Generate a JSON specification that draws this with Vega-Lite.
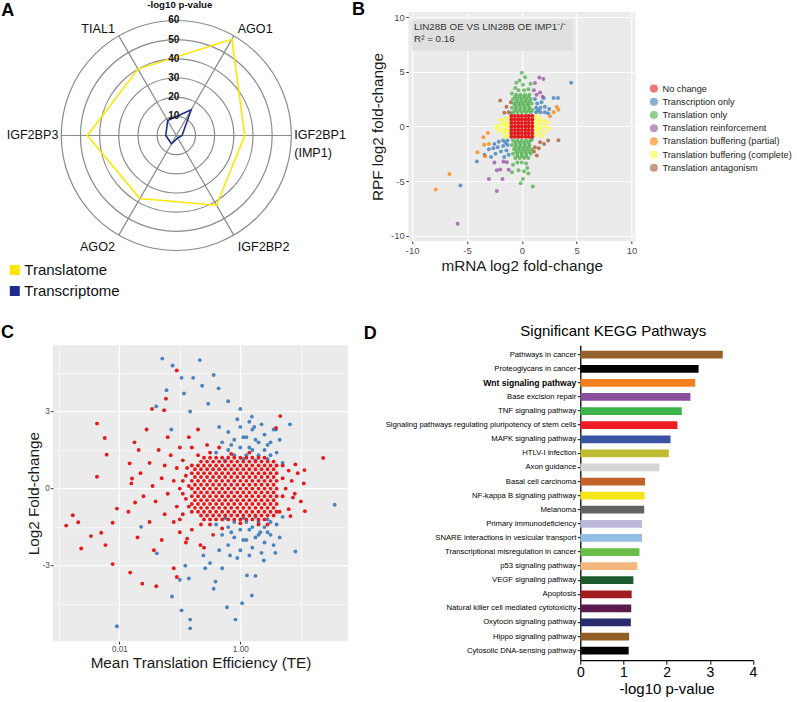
{
"$schema":"https://vega.github.io/schema/vega-lite/v6.json",
"autosize":{"type":"pad"},
"padding":{"left":0,"top":0,"right":0,"bottom":0},
"background":"white",
"bounds":"flush",
"spacing":333.2,
"resolve":{"scale":{"color":"independent","radius":"independent"},"legend":{"color":"independent"}},
"config":{"font":"Liberation Sans","view":{"stroke":null}},
"datasets":{
"radar":[
{"protein":"AGO1","angle":30,"series":"Translatome","value":58},
{"protein":"IGF2BP1","angle":90,"series":"Translatome","value":35.7},
{"protein":"IGF2BP2","angle":150,"series":"Translatome","value":42},
{"protein":"AGO2","angle":210,"series":"Translatome","value":38},
{"protein":"IGF2BP3","angle":270,"series":"Translatome","value":46.4},
{"protein":"TIAL1","angle":330,"series":"Translatome","value":40},
{"protein":"AGO1","angle":30,"series":"Transcriptome","value":15.5},
{"protein":"IGF2BP1","angle":90,"series":"Transcriptome","value":3},
{"protein":"IGF2BP2","angle":150,"series":"Transcriptome","value":1.5},
{"protein":"AGO2","angle":210,"series":"Transcriptome","value":5},
{"protein":"IGF2BP3","angle":270,"series":"Transcriptome","value":5.5},
{"protein":"TIAL1","angle":330,"series":"Transcriptome","value":9}],
"spokes":[
{"protein":"AGO1","angle":30},{"protein":"IGF2BP1","angle":90},{"protein":"IGF2BP2","angle":150},
{"protein":"AGO2","angle":210},{"protein":"IGF2BP3","angle":270},{"protein":"TIAL1","angle":330}],
"rings":[{"r":10},{"r":20},{"r":30},{"r":40},{"r":50},{"r":60}],
"deseq":[
{"mrna":-0.8,"rpf":1.3,"category":"Translation only"},{"mrna":-0.4,"rpf":1.3,"category":"Translation only"},{"mrna":0,"rpf":1.3,"category":"Translation only"},{"mrna":0.4,"rpf":1.3,"category":"Translation only"},{"mrna":0.8,"rpf":1.3,"category":"Translation only"},
{"mrna":-0.9,"rpf":1.7,"category":"Translation only"},{"mrna":-0.5,"rpf":1.7,"category":"Translation only"},{"mrna":-0.1,"rpf":1.7,"category":"Translation only"},{"mrna":0.3,"rpf":1.7,"category":"Translation only"},{"mrna":0.7,"rpf":1.7,"category":"Translation only"},
{"mrna":-0.7,"rpf":2.1,"category":"Translation only"},{"mrna":-0.3,"rpf":2.1,"category":"Translation only"},{"mrna":0.1,"rpf":2.1,"category":"Translation only"},{"mrna":0.5,"rpf":2.1,"category":"Translation only"},{"mrna":0.9,"rpf":2.1,"category":"Translation only"},
{"mrna":-0.8,"rpf":2.5,"category":"Translation only"},{"mrna":-0.4,"rpf":2.5,"category":"Translation only"},{"mrna":0,"rpf":2.5,"category":"Translation only"},{"mrna":0.4,"rpf":2.5,"category":"Translation only"},{"mrna":0.8,"rpf":2.5,"category":"Translation only"},
{"mrna":-0.5,"rpf":2.9,"category":"Translation only"},{"mrna":-0.1,"rpf":2.9,"category":"Translation only"},{"mrna":0.3,"rpf":2.9,"category":"Translation only"},{"mrna":0.7,"rpf":2.9,"category":"Translation only"},
{"mrna":-0.3,"rpf":3.3,"category":"Translation only"},{"mrna":0.2,"rpf":3.3,"category":"Translation only"},{"mrna":0.6,"rpf":3.4,"category":"Translation only"},{"mrna":-0.6,"rpf":3.5,"category":"Translation only"},
{"mrna":0.1,"rpf":3.8,"category":"Translation only"},{"mrna":-0.2,"rpf":4.2,"category":"Translation only"},{"mrna":0.3,"rpf":4.5,"category":"Translation only"},{"mrna":0,"rpf":4.9,"category":"Translation only"},{"mrna":-0.5,"rpf":4,"category":"Translation only"},{"mrna":0.8,"rpf":3.9,"category":"Translation only"},{"mrna":-0.9,"rpf":3,"category":"Translation only"},
{"mrna":-0.6,"rpf":1.5,"category":"Translation only"},{"mrna":-0.2,"rpf":1.5,"category":"Translation only"},{"mrna":0.2,"rpf":1.5,"category":"Translation only"},{"mrna":0.6,"rpf":1.5,"category":"Translation only"},
{"mrna":-0.6,"rpf":1.9,"category":"Translation only"},{"mrna":-0.2,"rpf":1.9,"category":"Translation only"},{"mrna":0.2,"rpf":1.9,"category":"Translation only"},{"mrna":0.6,"rpf":1.9,"category":"Translation only"},
{"mrna":-0.5,"rpf":2.3,"category":"Translation only"},{"mrna":-0.1,"rpf":2.3,"category":"Translation only"},{"mrna":0.3,"rpf":2.3,"category":"Translation only"},{"mrna":0.7,"rpf":2.3,"category":"Translation only"},
{"mrna":-0.6,"rpf":2.7,"category":"Translation only"},{"mrna":-0.2,"rpf":2.7,"category":"Translation only"},{"mrna":0.2,"rpf":2.7,"category":"Translation only"},{"mrna":0.6,"rpf":2.7,"category":"Translation only"},
{"mrna":0.95,"rpf":1.5,"category":"Translation only"},{"mrna":-0.95,"rpf":1.2,"category":"Translation only"},
{"mrna":-0.8,"rpf":-1.3,"category":"Translation only"},{"mrna":-0.4,"rpf":-1.3,"category":"Translation only"},{"mrna":0,"rpf":-1.3,"category":"Translation only"},{"mrna":0.4,"rpf":-1.3,"category":"Translation only"},{"mrna":0.8,"rpf":-1.3,"category":"Translation only"},
{"mrna":-0.9,"rpf":-1.7,"category":"Translation only"},{"mrna":-0.5,"rpf":-1.7,"category":"Translation only"},{"mrna":-0.1,"rpf":-1.7,"category":"Translation only"},{"mrna":0.3,"rpf":-1.7,"category":"Translation only"},{"mrna":0.7,"rpf":-1.7,"category":"Translation only"},
{"mrna":-0.7,"rpf":-2.1,"category":"Translation only"},{"mrna":-0.3,"rpf":-2.1,"category":"Translation only"},{"mrna":0.1,"rpf":-2.1,"category":"Translation only"},{"mrna":0.5,"rpf":-2.1,"category":"Translation only"},{"mrna":0.9,"rpf":-2.1,"category":"Translation only"},
{"mrna":-0.8,"rpf":-2.5,"category":"Translation only"},{"mrna":-0.4,"rpf":-2.5,"category":"Translation only"},{"mrna":0,"rpf":-2.5,"category":"Translation only"},{"mrna":0.4,"rpf":-2.5,"category":"Translation only"},{"mrna":0.8,"rpf":-2.5,"category":"Translation only"},
{"mrna":-0.6,"rpf":-2.9,"category":"Translation only"},{"mrna":-0.2,"rpf":-2.9,"category":"Translation only"},{"mrna":0.2,"rpf":-2.9,"category":"Translation only"},{"mrna":0.6,"rpf":-2.9,"category":"Translation only"},
{"mrna":-0.4,"rpf":-3.3,"category":"Translation only"},{"mrna":0,"rpf":-3.3,"category":"Translation only"},{"mrna":0.4,"rpf":-3.4,"category":"Translation only"},{"mrna":-0.8,"rpf":-3.5,"category":"Translation only"},
{"mrna":-0.3,"rpf":-4,"category":"Translation only"},{"mrna":0.2,"rpf":-4.1,"category":"Translation only"},{"mrna":0.6,"rpf":-4.3,"category":"Translation only"},{"mrna":-0.9,"rpf":-4.2,"category":"Translation only"},{"mrna":0.1,"rpf":-4.8,"category":"Translation only"},{"mrna":-0.1,"rpf":-5.2,"category":"Translation only"},{"mrna":1,"rpf":-5.5,"category":"Translation only"},{"mrna":0.5,"rpf":-3.8,"category":"Translation only"},
{"mrna":-0.6,"rpf":-1.5,"category":"Translation only"},{"mrna":-0.2,"rpf":-1.5,"category":"Translation only"},{"mrna":0.2,"rpf":-1.5,"category":"Translation only"},{"mrna":0.6,"rpf":-1.5,"category":"Translation only"},
{"mrna":-0.6,"rpf":-1.9,"category":"Translation only"},{"mrna":-0.2,"rpf":-1.9,"category":"Translation only"},{"mrna":0.2,"rpf":-1.9,"category":"Translation only"},{"mrna":0.6,"rpf":-1.9,"category":"Translation only"},
{"mrna":-0.5,"rpf":-2.3,"category":"Translation only"},{"mrna":-0.1,"rpf":-2.3,"category":"Translation only"},{"mrna":0.3,"rpf":-2.3,"category":"Translation only"},{"mrna":0.7,"rpf":-2.3,"category":"Translation only"},
{"mrna":-0.4,"rpf":-2.7,"category":"Translation only"},{"mrna":0,"rpf":-2.7,"category":"Translation only"},{"mrna":0.4,"rpf":-2.7,"category":"Translation only"},{"mrna":0.9,"rpf":-1.2,"category":"Translation only"},
{"mrna":1.3,"rpf":-0.8,"category":"Translation buffering (complete)"},{"mrna":1.3,"rpf":-0.4,"category":"Translation buffering (complete)"},{"mrna":1.3,"rpf":0,"category":"Translation buffering (complete)"},{"mrna":1.3,"rpf":0.4,"category":"Translation buffering (complete)"},{"mrna":1.3,"rpf":0.8,"category":"Translation buffering (complete)"},
{"mrna":1.7,"rpf":-0.6,"category":"Translation buffering (complete)"},{"mrna":1.7,"rpf":-0.2,"category":"Translation buffering (complete)"},{"mrna":1.7,"rpf":0.2,"category":"Translation buffering (complete)"},{"mrna":1.7,"rpf":0.6,"category":"Translation buffering (complete)"},
{"mrna":2.1,"rpf":-0.5,"category":"Translation buffering (complete)"},{"mrna":2.1,"rpf":0,"category":"Translation buffering (complete)"},{"mrna":2.1,"rpf":0.5,"category":"Translation buffering (complete)"},{"mrna":2.4,"rpf":0.3,"category":"Translation buffering (complete)"},{"mrna":2.5,"rpf":-0.2,"category":"Translation buffering (complete)"},
{"mrna":1.5,"rpf":0.95,"category":"Translation buffering (complete)"},{"mrna":1.9,"rpf":-0.9,"category":"Translation buffering (complete)"},{"mrna":1.5,"rpf":-0.2,"category":"Translation buffering (complete)"},{"mrna":1.5,"rpf":0.4,"category":"Translation buffering (complete)"},
{"mrna":-1.3,"rpf":-0.8,"category":"Translation buffering (complete)"},{"mrna":-1.3,"rpf":-0.4,"category":"Translation buffering (complete)"},{"mrna":-1.3,"rpf":0,"category":"Translation buffering (complete)"},{"mrna":-1.3,"rpf":0.4,"category":"Translation buffering (complete)"},{"mrna":-1.3,"rpf":0.8,"category":"Translation buffering (complete)"},
{"mrna":-1.7,"rpf":-0.6,"category":"Translation buffering (complete)"},{"mrna":-1.7,"rpf":-0.2,"category":"Translation buffering (complete)"},{"mrna":-1.7,"rpf":0.2,"category":"Translation buffering (complete)"},{"mrna":-1.7,"rpf":0.6,"category":"Translation buffering (complete)"},
{"mrna":-2.1,"rpf":-0.4,"category":"Translation buffering (complete)"},{"mrna":-2.1,"rpf":0.1,"category":"Translation buffering (complete)"},{"mrna":-2,"rpf":0.6,"category":"Translation buffering (complete)"},{"mrna":-2.3,"rpf":-0.1,"category":"Translation buffering (complete)"},
{"mrna":-1.5,"rpf":-0.95,"category":"Translation buffering (complete)"},{"mrna":-1.5,"rpf":0.2,"category":"Translation buffering (complete)"},{"mrna":-1.5,"rpf":-0.4,"category":"Translation buffering (complete)"},
{"mrna":1.3,"rpf":1.3,"category":"Transcription only"},{"mrna":1.7,"rpf":1.3,"category":"Transcription only"},{"mrna":2.1,"rpf":1.3,"category":"Transcription only"},{"mrna":1.3,"rpf":1.7,"category":"Transcription only"},{"mrna":1.7,"rpf":1.7,"category":"Transcription only"},{"mrna":2.1,"rpf":1.8,"category":"Transcription only"},
{"mrna":1.4,"rpf":2.1,"category":"Transcription only"},{"mrna":1.8,"rpf":2.2,"category":"Transcription only"},{"mrna":2.5,"rpf":1.6,"category":"Transcription only"},{"mrna":1.2,"rpf":2.5,"category":"Transcription only"},{"mrna":2,"rpf":2.6,"category":"Transcription only"},{"mrna":2.4,"rpf":1.2,"category":"Transcription only"},
{"mrna":2.9,"rpf":2.6,"category":"Transcription only"},{"mrna":3.3,"rpf":2.6,"category":"Transcription only"},{"mrna":4.5,"rpf":4,"category":"Transcription only"},{"mrna":1.5,"rpf":1.5,"category":"Transcription only"},
{"mrna":-1.3,"rpf":-1.3,"category":"Transcription only"},{"mrna":-1.7,"rpf":-1.3,"category":"Transcription only"},{"mrna":-2.1,"rpf":-1.4,"category":"Transcription only"},{"mrna":-1.3,"rpf":-1.7,"category":"Transcription only"},{"mrna":-1.7,"rpf":-1.8,"category":"Transcription only"},{"mrna":-2.2,"rpf":-1.9,"category":"Transcription only"},
{"mrna":-2.6,"rpf":-2,"category":"Transcription only"},{"mrna":-1.4,"rpf":-2.2,"category":"Transcription only"},{"mrna":-1.9,"rpf":-2.3,"category":"Transcription only"},{"mrna":-2.4,"rpf":-2.5,"category":"Transcription only"},{"mrna":-3,"rpf":-2.1,"category":"Transcription only"},{"mrna":-1.2,"rpf":-2.6,"category":"Transcription only"},
{"mrna":-2.8,"rpf":-2.8,"category":"Transcription only"},{"mrna":-3.4,"rpf":-2.6,"category":"Transcription only"},{"mrna":-4.1,"rpf":-3.2,"category":"Transcription only"},{"mrna":-5.6,"rpf":-5.4,"category":"Transcription only"},{"mrna":-1.6,"rpf":-2.8,"category":"Transcription only"},{"mrna":-1.5,"rpf":-1.5,"category":"Transcription only"},{"mrna":-2.5,"rpf":-1.6,"category":"Transcription only"},
{"mrna":1.6,"rpf":4.48,"category":"Translation reinforcement"},{"mrna":1.97,"rpf":4.33,"category":"Translation reinforcement"},{"mrna":1.2,"rpf":3.96,"category":"Translation reinforcement"},{"mrna":1.35,"rpf":2.9,"category":"Translation reinforcement"},{"mrna":1.67,"rpf":3.1,"category":"Translation reinforcement"},{"mrna":1.9,"rpf":2.7,"category":"Translation reinforcement"},{"mrna":1.1,"rpf":3.3,"category":"Translation reinforcement"},
{"mrna":-1.68,"rpf":-3.2,"category":"Translation reinforcement"},{"mrna":-2.28,"rpf":-4,"category":"Translation reinforcement"},{"mrna":-1.76,"rpf":-4.8,"category":"Translation reinforcement"},{"mrna":-3,"rpf":-4.8,"category":"Translation reinforcement"},{"mrna":-2.28,"rpf":-5.9,"category":"Translation reinforcement"},{"mrna":-5.85,"rpf":-8.9,"category":"Translation reinforcement"},
{"mrna":-1.97,"rpf":-3.95,"category":"Translation reinforcement"},{"mrna":-1.37,"rpf":-3.27,"category":"Translation reinforcement"},{"mrna":-1.2,"rpf":-3.97,"category":"Translation reinforcement"},{"mrna":-2.5,"rpf":-3.3,"category":"Translation reinforcement"},
{"mrna":3.19,"rpf":1.77,"category":"Translation buffering (partial)"},{"mrna":3.34,"rpf":1.53,"category":"Translation buffering (partial)"},{"mrna":2.58,"rpf":0.92,"category":"Translation buffering (partial)"},{"mrna":2.9,"rpf":1.3,"category":"Translation buffering (partial)"},
{"mrna":-3.5,"rpf":-1,"category":"Translation buffering (partial)"},{"mrna":-3.44,"rpf":-1.67,"category":"Translation buffering (partial)"},{"mrna":-4.05,"rpf":-2.37,"category":"Translation buffering (partial)"},{"mrna":-3.35,"rpf":-2.74,"category":"Translation buffering (partial)"},
{"mrna":-3,"rpf":-1.6,"category":"Translation buffering (partial)"},{"mrna":-6.6,"rpf":-4.36,"category":"Translation buffering (partial)"},{"mrna":-7.85,"rpf":-5.77,"category":"Translation buffering (partial)"},{"mrna":-3.1,"rpf":-0.6,"category":"Translation buffering (partial)"},
{"mrna":-1.97,"rpf":2.37,"category":"Translation antagonism"},{"mrna":-1.6,"rpf":1.25,"category":"Translation antagonism"},{"mrna":-1.2,"rpf":1.3,"category":"Translation antagonism"},{"mrna":-1.4,"rpf":1.8,"category":"Translation antagonism"},{"mrna":-1,"rpf":2.2,"category":"Translation antagonism"},
{"mrna":1.67,"rpf":-1.45,"category":"Translation antagonism"},{"mrna":2.03,"rpf":-1.6,"category":"Translation antagonism"},{"mrna":1.37,"rpf":-2.67,"category":"Translation antagonism"},{"mrna":1.55,"rpf":-2,"category":"Translation antagonism"},{"mrna":3.34,"rpf":-1.26,"category":"Translation antagonism"},
{"mrna":1.2,"rpf":-1.9,"category":"Translation antagonism"},{"mrna":2.4,"rpf":-1.3,"category":"Translation antagonism"},{"mrna":1.1,"rpf":-2.3,"category":"Translation antagonism"},
{"mrna":-0.95,"rpf":-0.95,"category":"No change"},{"mrna":-0.63,"rpf":-0.95,"category":"No change"},{"mrna":-0.32,"rpf":-0.95,"category":"No change"},{"mrna":0,"rpf":-0.95,"category":"No change"},{"mrna":0.32,"rpf":-0.95,"category":"No change"},{"mrna":0.63,"rpf":-0.95,"category":"No change"},{"mrna":0.95,"rpf":-0.95,"category":"No change"},
{"mrna":-0.95,"rpf":-0.63,"category":"No change"},{"mrna":-0.63,"rpf":-0.63,"category":"No change"},{"mrna":-0.32,"rpf":-0.63,"category":"No change"},{"mrna":0,"rpf":-0.63,"category":"No change"},{"mrna":0.32,"rpf":-0.63,"category":"No change"},{"mrna":0.63,"rpf":-0.63,"category":"No change"},{"mrna":0.95,"rpf":-0.63,"category":"No change"},
{"mrna":-0.95,"rpf":-0.32,"category":"No change"},{"mrna":-0.63,"rpf":-0.32,"category":"No change"},{"mrna":-0.32,"rpf":-0.32,"category":"No change"},{"mrna":0,"rpf":-0.32,"category":"No change"},{"mrna":0.32,"rpf":-0.32,"category":"No change"},{"mrna":0.63,"rpf":-0.32,"category":"No change"},{"mrna":0.95,"rpf":-0.32,"category":"No change"},
{"mrna":-0.95,"rpf":0,"category":"No change"},{"mrna":-0.63,"rpf":0,"category":"No change"},{"mrna":-0.32,"rpf":0,"category":"No change"},{"mrna":0,"rpf":0,"category":"No change"},{"mrna":0.32,"rpf":0,"category":"No change"},{"mrna":0.63,"rpf":0,"category":"No change"},{"mrna":0.95,"rpf":0,"category":"No change"},
{"mrna":-0.95,"rpf":0.32,"category":"No change"},{"mrna":-0.63,"rpf":0.32,"category":"No change"},{"mrna":-0.32,"rpf":0.32,"category":"No change"},{"mrna":0,"rpf":0.32,"category":"No change"},{"mrna":0.32,"rpf":0.32,"category":"No change"},{"mrna":0.63,"rpf":0.32,"category":"No change"},{"mrna":0.95,"rpf":0.32,"category":"No change"},
{"mrna":-0.95,"rpf":0.63,"category":"No change"},{"mrna":-0.63,"rpf":0.63,"category":"No change"},{"mrna":-0.32,"rpf":0.63,"category":"No change"},{"mrna":0,"rpf":0.63,"category":"No change"},{"mrna":0.32,"rpf":0.63,"category":"No change"},{"mrna":0.63,"rpf":0.63,"category":"No change"},{"mrna":0.95,"rpf":0.63,"category":"No change"},
{"mrna":-0.95,"rpf":0.95,"category":"No change"},{"mrna":-0.63,"rpf":0.95,"category":"No change"},{"mrna":-0.32,"rpf":0.95,"category":"No change"},{"mrna":0,"rpf":0.95,"category":"No change"},{"mrna":0.32,"rpf":0.95,"category":"No change"},{"mrna":0.63,"rpf":0.95,"category":"No change"},{"mrna":0.95,"rpf":0.95,"category":"No change"}
],
"te":[
{"te":0.398,"lfc":1.4,"sig":1},{"te":0.501,"lfc":1.8,"sig":1},{"te":0.631,"lfc":1.5,"sig":1},{"te":0.631,"lfc":2.2,"sig":1},{"te":0.794,"lfc":1.3,"sig":1},{"te":0.794,"lfc":1.9,"sig":1},{"te":1,"lfc":1.6,"sig":1},{"te":1,"lfc":2.4,"sig":1},
{"te":1.26,"lfc":1.3,"sig":1},{"te":1.26,"lfc":2,"sig":1},{"te":1.58,"lfc":1.5,"sig":1},{"te":1.58,"lfc":2.3,"sig":1},{"te":2,"lfc":1.3,"sig":1},{"te":2,"lfc":1.8,"sig":1},{"te":2.51,"lfc":1.5,"sig":1},{"te":2.51,"lfc":2.1,"sig":1},
{"te":3.16,"lfc":1.3,"sig":1},{"te":3.16,"lfc":1.8,"sig":1},{"te":3.98,"lfc":1.4,"sig":1},{"te":5.01,"lfc":1,"sig":1},{"te":0.447,"lfc":2.4,"sig":1},{"te":0.891,"lfc":2.7,"sig":1},{"te":1.41,"lfc":2.6,"sig":1},{"te":2.24,"lfc":2.5,"sig":1},
{"te":1.12,"lfc":1.15,"sig":1},{"te":1.78,"lfc":1.1,"sig":1},{"te":2.82,"lfc":1.15,"sig":1},{"te":0.562,"lfc":1.1,"sig":1},{"te":3.55,"lfc":2.3,"sig":1},{"te":4.47,"lfc":1.9,"sig":1},
{"te":0.708,"lfc":1.7,"sig":1},{"te":1.12,"lfc":2,"sig":1},{"te":1.78,"lfc":1.9,"sig":1},{"te":2.82,"lfc":1.7,"sig":1},{"te":1.41,"lfc":1.6,"sig":1},
{"te":0.398,"lfc":-1.4,"sig":1},{"te":0.501,"lfc":-1.8,"sig":1},{"te":0.631,"lfc":-1.5,"sig":1},{"te":0.631,"lfc":-2.2,"sig":1},{"te":0.794,"lfc":-1.3,"sig":1},{"te":0.794,"lfc":-1.9,"sig":1},{"te":1,"lfc":-1.6,"sig":1},{"te":1,"lfc":-2.4,"sig":1},
{"te":1.26,"lfc":-1.3,"sig":1},{"te":1.26,"lfc":-2,"sig":1},{"te":1.58,"lfc":-1.5,"sig":1},{"te":1.58,"lfc":-2.3,"sig":1},{"te":2,"lfc":-1.3,"sig":1},{"te":2,"lfc":-1.8,"sig":1},{"te":2.51,"lfc":-1.5,"sig":1},{"te":2.51,"lfc":-2.1,"sig":1},
{"te":3.16,"lfc":-1.3,"sig":1},{"te":3.16,"lfc":-1.8,"sig":1},{"te":3.98,"lfc":-1.4,"sig":1},{"te":5.01,"lfc":-1.1,"sig":1},{"te":0.447,"lfc":-2.4,"sig":1},{"te":0.891,"lfc":-2.7,"sig":1},{"te":1.41,"lfc":-2.6,"sig":1},{"te":2.24,"lfc":-2.5,"sig":1},
{"te":1.12,"lfc":-1.15,"sig":1},{"te":1.78,"lfc":-1.1,"sig":1},{"te":2.82,"lfc":-1.2,"sig":1},{"te":0.562,"lfc":-1.15,"sig":1},{"te":3.55,"lfc":-2.2,"sig":1},{"te":4.47,"lfc":-1.9,"sig":1},{"te":0.316,"lfc":-2.9,"sig":1},{"te":0.501,"lfc":-3.1,"sig":1},
{"te":0.708,"lfc":-1.7,"sig":1},{"te":1.12,"lfc":-2,"sig":1},{"te":1.78,"lfc":-1.9,"sig":1},{"te":2.82,"lfc":-1.7,"sig":1},{"te":1.41,"lfc":-1.6,"sig":1},
{"te":0.0513,"lfc":5.06,"sig":1},{"te":0.0759,"lfc":4.79,"sig":1},{"te":0.107,"lfc":4.31,"sig":1},{"te":0.166,"lfc":4.31,"sig":1},{"te":0.214,"lfc":5,"sig":1},{"te":0.363,"lfc":4.42,"sig":1},{"te":0.437,"lfc":3.9,"sig":1},{"te":0.234,"lfc":4,"sig":1},
{"te":0.117,"lfc":3.7,"sig":1},{"te":0.0603,"lfc":3.83,"sig":1},{"te":0.0407,"lfc":3.2,"sig":1},{"te":1,"lfc":3.1,"sig":1},{"te":1.55,"lfc":2.8,"sig":1},{"te":6.61,"lfc":2.5,"sig":1},{"te":3.89,"lfc":2.3,"sig":1},{"te":1.7,"lfc":2.4,"sig":1},
{"te":0.631,"lfc":3.4,"sig":1},{"te":0.295,"lfc":3.3,"sig":1},{"te":0.148,"lfc":3,"sig":1},{"te":0.0724,"lfc":2.3,"sig":1},
{"te":0.0091,"lfc":-5.36,"sig":1},{"te":0.107,"lfc":-4.74,"sig":1},{"te":0.148,"lfc":-5.1,"sig":1},{"te":0.148,"lfc":-5.44,"sig":1},{"te":0.0741,"lfc":-4.2,"sig":1},{"te":0.363,"lfc":-3.9,"sig":1},{"te":0.389,"lfc":-3.62,"sig":1},{"te":0.832,"lfc":-5.1,"sig":1},
{"te":1.07,"lfc":-4.46,"sig":1},{"te":0.603,"lfc":-4.62,"sig":1},{"te":1.55,"lfc":-4.16,"sig":1},{"te":1.78,"lfc":-3.4,"sig":1},{"te":1.29,"lfc":-3.38,"sig":1},{"te":0.141,"lfc":-3.5,"sig":1},{"te":0.263,"lfc":-3.1,"sig":1},{"te":0.1,"lfc":-3.55,"sig":1},
{"te":8.13,"lfc":-2.45,"sig":1},{"te":3.8,"lfc":-2.5,"sig":1},{"te":36.3,"lfc":-0.63,"sig":1},{"te":0.0417,"lfc":-2.52,"sig":1},{"te":0.0229,"lfc":-1.49,"sig":1},{"te":0.123,"lfc":-3,"sig":1},{"te":0.245,"lfc":-2.6,"sig":1},{"te":0.676,"lfc":-2.6,"sig":1},
{"te":2.45,"lfc":-2.8,"sig":1},{"te":2.14,"lfc":-1.7,"sig":1},
{"te":0.126,"lfc":0.5,"sig":0},{"te":0.126,"lfc":-0.4,"sig":0},{"te":0.112,"lfc":1.1,"sig":0},{"te":0.112,"lfc":-1,"sig":0},{"te":0.1,"lfc":0,"sig":0},{"te":0.1,"lfc":1.6,"sig":0},{"te":0.1,"lfc":-1.7,"sig":0},{"te":0.0891,"lfc":0.8,"sig":0},
{"te":0.0891,"lfc":-0.7,"sig":0},{"te":0.0794,"lfc":0.3,"sig":0},{"te":0.0794,"lfc":-1.3,"sig":0},{"te":0.0708,"lfc":1.3,"sig":0},{"te":0.0631,"lfc":-0.2,"sig":0},{"te":0.0631,"lfc":2,"sig":0},{"te":0.0562,"lfc":0.9,"sig":0},{"te":0.0562,"lfc":-1,"sig":0},
{"te":0.0501,"lfc":0.4,"sig":0},{"te":0.0501,"lfc":-2,"sig":0},{"te":0.0447,"lfc":1.5,"sig":0},{"te":0.0398,"lfc":-0.5,"sig":0},{"te":0.0355,"lfc":0.1,"sig":0},{"te":0.0316,"lfc":1,"sig":0},{"te":0.0316,"lfc":-1.3,"sig":0},{"te":0.0282,"lfc":2.3,"sig":0},
{"te":0.0251,"lfc":-0.3,"sig":0},{"te":0.0224,"lfc":0.6,"sig":0},{"te":0.02,"lfc":-1.9,"sig":0},{"te":0.0178,"lfc":1.8,"sig":0},{"te":0.0158,"lfc":0.2,"sig":0},{"te":0.0141,"lfc":-0.9,"sig":0},{"te":0.141,"lfc":2,"sig":0},{"te":0.126,"lfc":-2.1,"sig":0},
{"te":0.158,"lfc":1.6,"sig":0},{"te":0.158,"lfc":-1.6,"sig":0},{"te":0.2,"lfc":2.3,"sig":0},{"te":0.251,"lfc":-2.3,"sig":0},{"te":0.282,"lfc":1.7,"sig":0},{"te":0.355,"lfc":-1.8,"sig":0},{"te":0.224,"lfc":-1.4,"sig":0},{"te":0.2,"lfc":1.3,"sig":0},
{"te":0.141,"lfc":0.1,"sig":0},{"te":0.141,"lfc":-0.7,"sig":0},{"te":0.132,"lfc":0.8,"sig":0},{"te":0.112,"lfc":0.3,"sig":0},{"te":0.112,"lfc":-0.2,"sig":0},{"te":0.1,"lfc":-1.2,"sig":0},
{"te":0.316,"lfc":1.4,"sig":0},{"te":0.447,"lfc":1.6,"sig":0},{"te":0.708,"lfc":1.35,"sig":0},{"te":1.41,"lfc":1.4,"sig":0},{"te":0.316,"lfc":-1.4,"sig":0},{"te":0.501,"lfc":-1.55,"sig":0},{"te":1,"lfc":-1.35,"sig":0},{"te":2,"lfc":-1.4,"sig":0},{"te":2.82,"lfc":-1.4,"sig":0},
{"te":5.01,"lfc":0.4,"sig":0},{"te":5.01,"lfc":-0.3,"sig":0},{"te":5.01,"lfc":0.9,"sig":0},{"te":5.62,"lfc":0,"sig":0},{"te":6.31,"lfc":-0.8,"sig":0},{"te":7.08,"lfc":0.3,"sig":0},{"te":7.94,"lfc":-0.2,"sig":0},{"te":8.91,"lfc":0.6,"sig":0},
{"te":10,"lfc":-0.5,"sig":0},{"te":11.2,"lfc":0.2,"sig":0},{"te":4.47,"lfc":-0.9,"sig":0},{"te":6.31,"lfc":0.7,"sig":0},
{"te":0.00427,"lfc":2.53,"sig":0},{"te":0.00575,"lfc":1.97,"sig":0},{"te":0.00617,"lfc":1.32,"sig":0},{"te":0.00427,"lfc":0.46,"sig":0},{"te":0.00132,"lfc":-1.44,"sig":0},{"te":0.0017,"lfc":-1.04,"sig":0},{"te":0.00209,"lfc":-1.31,"sig":0},{"te":0.00234,"lfc":-2.33,"sig":0},
{"te":0.00339,"lfc":-1.85,"sig":0},{"te":0.00501,"lfc":-1.72,"sig":0},{"te":0.00589,"lfc":-2.2,"sig":0},{"te":0.00776,"lfc":-2.94,"sig":0},{"te":0.00776,"lfc":-1.33,"sig":0},{"te":0.00912,"lfc":-0.78,"sig":0},{"te":0.0151,"lfc":-3.27,"sig":0},{"te":0.0148,"lfc":0.98,"sig":0},
{"te":0.0162,"lfc":0.39,"sig":0},{"te":0.0182,"lfc":-0.54,"sig":0},{"te":0.024,"lfc":-3.7,"sig":0},{"te":0.0407,"lfc":-3.8,"sig":0},{"te":0.0372,"lfc":-2.4,"sig":0},{"te":0.0347,"lfc":3.1,"sig":0},{"te":0.0589,"lfc":3.5,"sig":0},{"te":0.0891,"lfc":4.6,"sig":0},
{"te":0.055,"lfc":3.05,"sig":0},{"te":0.0209,"lfc":1.5,"sig":0},{"te":23.4,"lfc":1.19,"sig":0},{"te":11.5,"lfc":0.72,"sig":0},{"te":11.7,"lfc":-0.88,"sig":0},{"te":8.13,"lfc":0.94,"sig":0},{"te":7.41,"lfc":-0.35,"sig":0},{"te":4.57,"lfc":2.82,"sig":0},
{"te":3.89,"lfc":2.36,"sig":0},{"te":6.76,"lfc":-1.07,"sig":0},{"te":0.0891,"lfc":-3.44,"sig":0},{"te":0.0794,"lfc":-3.1,"sig":0},{"te":0.219,"lfc":-2.2,"sig":0},{"te":0.132,"lfc":-1.95,"sig":0},
{"te":0.251,"lfc":-1.2,"sig":0},{"te":0.316,"lfc":-1.2,"sig":0},{"te":0.398,"lfc":-1.2,"sig":0},{"te":0.501,"lfc":-1.2,"sig":0},{"te":0.631,"lfc":-1.2,"sig":0},{"te":0.794,"lfc":-1.2,"sig":0},{"te":1,"lfc":-1.2,"sig":0},{"te":1.26,"lfc":-1.2,"sig":0},{"te":1.58,"lfc":-1.2,"sig":0},{"te":2,"lfc":-1.2,"sig":0},{"te":2.51,"lfc":-1.2,"sig":0},
{"te":0.158,"lfc":-0.9,"sig":0},{"te":0.2,"lfc":-0.9,"sig":0},{"te":0.251,"lfc":-0.9,"sig":0},{"te":0.316,"lfc":-0.9,"sig":0},{"te":0.398,"lfc":-0.9,"sig":0},{"te":0.501,"lfc":-0.9,"sig":0},{"te":0.631,"lfc":-0.9,"sig":0},{"te":0.794,"lfc":-0.9,"sig":0},{"te":1,"lfc":-0.9,"sig":0},{"te":1.26,"lfc":-0.9,"sig":0},{"te":1.58,"lfc":-0.9,"sig":0},{"te":2,"lfc":-0.9,"sig":0},{"te":2.51,"lfc":-0.9,"sig":0},{"te":3.16,"lfc":-0.9,"sig":0},{"te":3.98,"lfc":-0.9,"sig":0},
{"te":0.158,"lfc":-0.6,"sig":0},{"te":0.2,"lfc":-0.6,"sig":0},{"te":0.251,"lfc":-0.6,"sig":0},{"te":0.316,"lfc":-0.6,"sig":0},{"te":0.398,"lfc":-0.6,"sig":0},{"te":0.501,"lfc":-0.6,"sig":0},{"te":0.631,"lfc":-0.6,"sig":0},{"te":0.794,"lfc":-0.6,"sig":0},{"te":1,"lfc":-0.6,"sig":0},{"te":1.26,"lfc":-0.6,"sig":0},{"te":1.58,"lfc":-0.6,"sig":0},{"te":2,"lfc":-0.6,"sig":0},{"te":2.51,"lfc":-0.6,"sig":0},{"te":3.16,"lfc":-0.6,"sig":0},{"te":3.98,"lfc":-0.6,"sig":0},
{"te":0.158,"lfc":-0.3,"sig":0},{"te":0.2,"lfc":-0.3,"sig":0},{"te":0.251,"lfc":-0.3,"sig":0},{"te":0.316,"lfc":-0.3,"sig":0},{"te":0.398,"lfc":-0.3,"sig":0},{"te":0.501,"lfc":-0.3,"sig":0},{"te":0.631,"lfc":-0.3,"sig":0},{"te":0.794,"lfc":-0.3,"sig":0},{"te":1,"lfc":-0.3,"sig":0},{"te":1.26,"lfc":-0.3,"sig":0},{"te":1.58,"lfc":-0.3,"sig":0},{"te":2,"lfc":-0.3,"sig":0},{"te":2.51,"lfc":-0.3,"sig":0},{"te":3.16,"lfc":-0.3,"sig":0},{"te":3.98,"lfc":-0.3,"sig":0},
{"te":0.158,"lfc":0,"sig":0},{"te":0.2,"lfc":0,"sig":0},{"te":0.251,"lfc":0,"sig":0},{"te":0.316,"lfc":0,"sig":0},{"te":0.398,"lfc":0,"sig":0},{"te":0.501,"lfc":0,"sig":0},{"te":0.631,"lfc":0,"sig":0},{"te":0.794,"lfc":0,"sig":0},{"te":1,"lfc":0,"sig":0},{"te":1.26,"lfc":0,"sig":0},{"te":1.58,"lfc":0,"sig":0},{"te":2,"lfc":0,"sig":0},{"te":2.51,"lfc":0,"sig":0},{"te":3.16,"lfc":0,"sig":0},{"te":3.98,"lfc":0,"sig":0},
{"te":0.158,"lfc":0.3,"sig":0},{"te":0.2,"lfc":0.3,"sig":0},{"te":0.251,"lfc":0.3,"sig":0},{"te":0.316,"lfc":0.3,"sig":0},{"te":0.398,"lfc":0.3,"sig":0},{"te":0.501,"lfc":0.3,"sig":0},{"te":0.631,"lfc":0.3,"sig":0},{"te":0.794,"lfc":0.3,"sig":0},{"te":1,"lfc":0.3,"sig":0},{"te":1.26,"lfc":0.3,"sig":0},{"te":1.58,"lfc":0.3,"sig":0},{"te":2,"lfc":0.3,"sig":0},{"te":2.51,"lfc":0.3,"sig":0},{"te":3.16,"lfc":0.3,"sig":0},{"te":3.98,"lfc":0.3,"sig":0},
{"te":0.158,"lfc":0.6,"sig":0},{"te":0.2,"lfc":0.6,"sig":0},{"te":0.251,"lfc":0.6,"sig":0},{"te":0.316,"lfc":0.6,"sig":0},{"te":0.398,"lfc":0.6,"sig":0},{"te":0.501,"lfc":0.6,"sig":0},{"te":0.631,"lfc":0.6,"sig":0},{"te":0.794,"lfc":0.6,"sig":0},{"te":1,"lfc":0.6,"sig":0},{"te":1.26,"lfc":0.6,"sig":0},{"te":1.58,"lfc":0.6,"sig":0},{"te":2,"lfc":0.6,"sig":0},{"te":2.51,"lfc":0.6,"sig":0},{"te":3.16,"lfc":0.6,"sig":0},{"te":3.98,"lfc":0.6,"sig":0},
{"te":0.158,"lfc":0.9,"sig":0},{"te":0.2,"lfc":0.9,"sig":0},{"te":0.251,"lfc":0.9,"sig":0},{"te":0.316,"lfc":0.9,"sig":0},{"te":0.398,"lfc":0.9,"sig":0},{"te":0.501,"lfc":0.9,"sig":0},{"te":0.631,"lfc":0.9,"sig":0},{"te":0.794,"lfc":0.9,"sig":0},{"te":1,"lfc":0.9,"sig":0},{"te":1.26,"lfc":0.9,"sig":0},{"te":1.58,"lfc":0.9,"sig":0},{"te":2,"lfc":0.9,"sig":0},{"te":2.51,"lfc":0.9,"sig":0},{"te":3.16,"lfc":0.9,"sig":0},{"te":3.98,"lfc":0.9,"sig":0},
{"te":0.251,"lfc":1.2,"sig":0},{"te":0.316,"lfc":1.2,"sig":0},{"te":0.398,"lfc":1.2,"sig":0},{"te":0.501,"lfc":1.2,"sig":0},{"te":0.631,"lfc":1.2,"sig":0},{"te":0.794,"lfc":1.2,"sig":0},{"te":1,"lfc":1.2,"sig":0},{"te":1.26,"lfc":1.2,"sig":0},{"te":1.58,"lfc":1.2,"sig":0},{"te":2,"lfc":1.2,"sig":0},{"te":2.51,"lfc":1.2,"sig":0},
{"te":0.224,"lfc":-1.05,"sig":0},{"te":0.282,"lfc":-1.05,"sig":0},{"te":0.355,"lfc":-1.05,"sig":0},{"te":0.447,"lfc":-1.05,"sig":0},{"te":0.562,"lfc":-1.05,"sig":0},{"te":0.708,"lfc":-1.05,"sig":0},{"te":0.891,"lfc":-1.05,"sig":0},{"te":1.12,"lfc":-1.05,"sig":0},{"te":1.41,"lfc":-1.05,"sig":0},{"te":1.78,"lfc":-1.05,"sig":0},{"te":2.24,"lfc":-1.05,"sig":0},{"te":2.82,"lfc":-1.05,"sig":0},{"te":3.55,"lfc":-1.05,"sig":0},
{"te":0.178,"lfc":-0.75,"sig":0},{"te":0.224,"lfc":-0.75,"sig":0},{"te":0.282,"lfc":-0.75,"sig":0},{"te":0.355,"lfc":-0.75,"sig":0},{"te":0.447,"lfc":-0.75,"sig":0},{"te":0.562,"lfc":-0.75,"sig":0},{"te":0.708,"lfc":-0.75,"sig":0},{"te":0.891,"lfc":-0.75,"sig":0},{"te":1.12,"lfc":-0.75,"sig":0},{"te":1.41,"lfc":-0.75,"sig":0},{"te":1.78,"lfc":-0.75,"sig":0},{"te":2.24,"lfc":-0.75,"sig":0},{"te":2.82,"lfc":-0.75,"sig":0},{"te":3.55,"lfc":-0.75,"sig":0},
{"te":0.178,"lfc":-0.45,"sig":0},{"te":0.224,"lfc":-0.45,"sig":0},{"te":0.282,"lfc":-0.45,"sig":0},{"te":0.355,"lfc":-0.45,"sig":0},{"te":0.447,"lfc":-0.45,"sig":0},{"te":0.562,"lfc":-0.45,"sig":0},{"te":0.708,"lfc":-0.45,"sig":0},{"te":0.891,"lfc":-0.45,"sig":0},{"te":1.12,"lfc":-0.45,"sig":0},{"te":1.41,"lfc":-0.45,"sig":0},{"te":1.78,"lfc":-0.45,"sig":0},{"te":2.24,"lfc":-0.45,"sig":0},{"te":2.82,"lfc":-0.45,"sig":0},{"te":3.55,"lfc":-0.45,"sig":0},
{"te":0.178,"lfc":-0.15,"sig":0},{"te":0.224,"lfc":-0.15,"sig":0},{"te":0.282,"lfc":-0.15,"sig":0},{"te":0.355,"lfc":-0.15,"sig":0},{"te":0.447,"lfc":-0.15,"sig":0},{"te":0.562,"lfc":-0.15,"sig":0},{"te":0.708,"lfc":-0.15,"sig":0},{"te":0.891,"lfc":-0.15,"sig":0},{"te":1.12,"lfc":-0.15,"sig":0},{"te":1.41,"lfc":-0.15,"sig":0},{"te":1.78,"lfc":-0.15,"sig":0},{"te":2.24,"lfc":-0.15,"sig":0},{"te":2.82,"lfc":-0.15,"sig":0},{"te":3.55,"lfc":-0.15,"sig":0},
{"te":0.178,"lfc":0.15,"sig":0},{"te":0.224,"lfc":0.15,"sig":0},{"te":0.282,"lfc":0.15,"sig":0},{"te":0.355,"lfc":0.15,"sig":0},{"te":0.447,"lfc":0.15,"sig":0},{"te":0.562,"lfc":0.15,"sig":0},{"te":0.708,"lfc":0.15,"sig":0},{"te":0.891,"lfc":0.15,"sig":0},{"te":1.12,"lfc":0.15,"sig":0},{"te":1.41,"lfc":0.15,"sig":0},{"te":1.78,"lfc":0.15,"sig":0},{"te":2.24,"lfc":0.15,"sig":0},{"te":2.82,"lfc":0.15,"sig":0},{"te":3.55,"lfc":0.15,"sig":0},
{"te":0.178,"lfc":0.45,"sig":0},{"te":0.224,"lfc":0.45,"sig":0},{"te":0.282,"lfc":0.45,"sig":0},{"te":0.355,"lfc":0.45,"sig":0},{"te":0.447,"lfc":0.45,"sig":0},{"te":0.562,"lfc":0.45,"sig":0},{"te":0.708,"lfc":0.45,"sig":0},{"te":0.891,"lfc":0.45,"sig":0},{"te":1.12,"lfc":0.45,"sig":0},{"te":1.41,"lfc":0.45,"sig":0},{"te":1.78,"lfc":0.45,"sig":0},{"te":2.24,"lfc":0.45,"sig":0},{"te":2.82,"lfc":0.45,"sig":0},{"te":3.55,"lfc":0.45,"sig":0},
{"te":0.178,"lfc":0.75,"sig":0},{"te":0.224,"lfc":0.75,"sig":0},{"te":0.282,"lfc":0.75,"sig":0},{"te":0.355,"lfc":0.75,"sig":0},{"te":0.447,"lfc":0.75,"sig":0},{"te":0.562,"lfc":0.75,"sig":0},{"te":0.708,"lfc":0.75,"sig":0},{"te":0.891,"lfc":0.75,"sig":0},{"te":1.12,"lfc":0.75,"sig":0},{"te":1.41,"lfc":0.75,"sig":0},{"te":1.78,"lfc":0.75,"sig":0},{"te":2.24,"lfc":0.75,"sig":0},{"te":2.82,"lfc":0.75,"sig":0},{"te":3.55,"lfc":0.75,"sig":0},
{"te":0.224,"lfc":1.05,"sig":0},{"te":0.282,"lfc":1.05,"sig":0},{"te":0.355,"lfc":1.05,"sig":0},{"te":0.447,"lfc":1.05,"sig":0},{"te":0.562,"lfc":1.05,"sig":0},{"te":0.708,"lfc":1.05,"sig":0},{"te":0.891,"lfc":1.05,"sig":0},{"te":1.12,"lfc":1.05,"sig":0},{"te":1.41,"lfc":1.05,"sig":0},{"te":1.78,"lfc":1.05,"sig":0},{"te":2.24,"lfc":1.05,"sig":0},{"te":2.82,"lfc":1.05,"sig":0},{"te":3.55,"lfc":1.05,"sig":0}
],
"kegg":[
{"pathway":"Pathways in cancer","p":3.3},
{"pathway":"Proteoglycans in cancer","p":2.74},
{"pathway":"Wnt signaling pathway","p":2.66},
{"pathway":"Base excision repair","p":2.55},
{"pathway":"TNF signaling pathway","p":2.35},
{"pathway":"Signaling pathways regulating pluripotency of stem cells","p":2.25},
{"pathway":"MAPK signaling pathway","p":2.09},
{"pathway":"HTLV-I infection","p":2.05},
{"pathway":"Axon guidance","p":1.83},
{"pathway":"Basal cell carcinoma","p":1.5},
{"pathway":"NF-kappa B signaling pathway","p":1.49},
{"pathway":"Melanoma","p":1.48},
{"pathway":"Primary immunodeficiency","p":1.43},
{"pathway":"SNARE interactions in vesicular transport","p":1.43},
{"pathway":"Transcriptional misregulation in cancer","p":1.37},
{"pathway":"p53 signaling pathway","p":1.32},
{"pathway":"VEGF signaling pathway","p":1.23},
{"pathway":"Apoptosis","p":1.19},
{"pathway":"Natural killer cell mediated cytotoxicity","p":1.18},
{"pathway":"Oxytocin signaling pathway","p":1.17},
{"pathway":"Hippo signaling pathway","p":1.13},
{"pathway":"Cytosolic DNA-sensing pathway","p":1.12}]
},
"vconcat":[
{"hconcat":[
{
"width":123,"height":229,
"layer":[
{"data":{"name":"rings"},
 "mark":{"type":"arc","theta":0,"theta2":6.2832,"filled":false,"stroke":"#8a8a8a","strokeWidth":1.2},
 "encoding":{
  "x":{"datum":0,"type":"quantitative","scale":{"domain":[-64.33,-0.16],"nice":false,"zero":false},"axis":null},
  "y":{"datum":0,"type":"quantitative","scale":{"domain":[-55.04,64.43],"nice":false,"zero":false},"axis":null},
  "radius":{"field":"r","type":"quantitative","stack":null,"scale":{"type":"linear","domain":[0,60],"range":[0,115],"zero":true,"nice":false},"legend":null}}},
{"data":{"name":"spokes"},
 "transform":[{"calculate":"60*sin(datum.angle*PI/180)","as":"sx"},{"calculate":"60*cos(datum.angle*PI/180)","as":"sy"}],
 "mark":{"type":"rule","color":"#8a8a8a","strokeWidth":1.2},
 "encoding":{"x":{"field":"sx","type":"quantitative"},"y":{"field":"sy","type":"quantitative"},"x2":{"datum":0},"y2":{"datum":0}}},
{"data":{"name":"radar"},
 "transform":[{"calculate":"datum.value*sin(datum.angle*PI/180)","as":"px"},{"calculate":"datum.value*cos(datum.angle*PI/180)","as":"py"}],
 "mark":{"type":"line","interpolate":"linear-closed","strokeWidth":1.6},
 "encoding":{
  "x":{"field":"px","type":"quantitative"},
  "y":{"field":"py","type":"quantitative"},
  "order":{"field":"angle","type":"quantitative"},
  "color":{"field":"series","type":"nominal","scale":{"domain":["Translatome","Transcriptome"],"range":["#FFE600","#1F2C8F"]},
   "legend":{"orient":"none","legendX":-45.7,"legendY":250.5,"title":null,"symbolType":"square","symbolSize":100,"symbolStrokeWidth":0,
    "labelFontSize":15,"labelColor":"#111111","labelOffset":2,"rowPadding":5,"padding":0,
    "encode":{"symbols":{"update":{"fill":{"signal":"datum.value === 'Translatome' ? '#FFE600' : '#1F2C8F'"},"fillOpacity":{"value":1},"strokeWidth":{"value":0}}}}}}}},
{"data":{"name":"rings"},
 "mark":{"type":"text","fontWeight":"bold","fontSize":10,"dx":-2.5,"baseline":"middle","align":"center","color":"#111111"},
 "encoding":{"x":{"datum":0,"type":"quantitative"},"y":{"field":"r","type":"quantitative"},"text":{"field":"r"}}},
{"data":{"values":[{"t":"-log10 p-value"}]},
 "mark":{"type":"text","fontWeight":"bold","fontSize":9.7,"baseline":"middle","align":"center","color":"#111111"},
 "encoding":{"x":{"datum":1.83,"type":"quantitative"},"y":{"datum":67.9,"type":"quantitative"},"text":{"field":"t"}}},
{"data":{"name":"spokes"},
 "transform":[{"filter":"datum.angle < 180"},{"calculate":"datum.angle % 180 == 90 ? 61.5 : 64","as":"lr"},{"calculate":"datum.lr*sin(datum.angle*PI/180)","as":"lx"},{"calculate":"datum.lr*cos(datum.angle*PI/180) - (datum.angle > 90 && datum.angle < 270 ? 2.5 : 0)","as":"ly"}],
 "mark":{"type":"text","align":"left","baseline":"middle","fontSize":12.6,"color":"#111111"},
 "encoding":{"x":{"field":"lx","type":"quantitative"},"y":{"field":"ly","type":"quantitative"},"text":{"field":"protein"}}},
{"data":{"name":"spokes"},
 "transform":[{"filter":"datum.angle > 180"},{"calculate":"datum.angle % 180 == 90 ? 61.5 : 64","as":"lr"},{"calculate":"datum.lr*sin(datum.angle*PI/180)","as":"lx"},{"calculate":"datum.lr*cos(datum.angle*PI/180) - (datum.angle > 90 && datum.angle < 270 ? 2.5 : 0)","as":"ly"}],
 "mark":{"type":"text","align":"right","baseline":"middle","fontSize":12.6,"color":"#111111"},
 "encoding":{"x":{"field":"lx","type":"quantitative"},"y":{"field":"ly","type":"quantitative"},"text":{"field":"protein"}}},
{"data":{"values":[{"t":"(IMP1)"}]},
 "mark":{"type":"text","align":"left","baseline":"middle","fontSize":12.6,"dy":18,"color":"#111111"},
 "encoding":{"x":{"datum":61.5,"type":"quantitative"},"y":{"datum":0,"type":"quantitative"},"text":{"field":"t"}}},
{"data":{"values":[{"panel":"A"}]},
 "mark":{"type":"text","fontSize":18,"fontWeight":"bold","align":"center","baseline":"middle","color":"#000000"},
 "encoding":{"x":{"datum":-87.9,"type":"quantitative"},"y":{"datum":64.96,"type":"quantitative"},"text":{"field":"panel"}}}
]},
{
"width":227,"height":229,
"view":{"fill":"#EBEBEB","stroke":null},
"layer":[
{"data":{"values":[{"mrna":-10,"mrna_end":4.7,"rpf":9.75,"rpf_end":6.92}]},
 "mark":{"type":"rect","color":"#E0E0E0"},
 "encoding":{"x":{"field":"mrna","type":"quantitative","title":"mRNA log2 fold-change"},"x2":{"field":"mrna_end"},"y":{"field":"rpf","type":"quantitative","title":"RPF log2 fold-change"},"y2":{"field":"rpf_end"}}},
{"data":{"name":"deseq"},
 "mark":{"type":"circle","size":16},
 "encoding":{
  "x":{"field":"mrna","type":"quantitative","title":"mRNA log2 fold-change","scale":{"domain":[-10.35,10.35],"nice":false,"zero":false},
   "axis":{"values":[-10,-7.5,-5,-2.5,0,2.5,5,7.5,10],"labelExpr":"datum.value % 5 == 0 ? toString(datum.value) : ''","domain":false,"gridColor":"#FFFFFF",
    "gridWidth":{"condition":{"test":"datum.value % 5 != 0","value":0.6},"value":1.2},
    "tickOpacity":{"condition":{"test":"datum.value % 5 != 0","value":0},"value":1},
    "tickColor":"#333333","tickSize":2.5,"labelFontSize":9.5,"labelColor":"#4D4D4D","labelPadding":1.5,"labelFlush":false,
    "titleFontSize":15.3,"titleFontWeight":"normal","titleColor":"#1A1A1A","titlePadding":4}},
  "y":{"field":"rpf","type":"quantitative","title":"RPF log2 fold-change","scale":{"domain":[-10.48,10.46],"nice":false,"zero":false},
   "axis":{"values":[-10,-7.5,-5,-2.5,0,2.5,5,7.5,10],"labelExpr":"datum.value % 5 == 0 ? toString(datum.value) : ''","domain":false,"gridColor":"#FFFFFF",
    "gridWidth":{"condition":{"test":"datum.value % 5 != 0","value":0.6},"value":1.2},
    "tickOpacity":{"condition":{"test":"datum.value % 5 != 0","value":0},"value":1},
    "tickColor":"#333333","tickSize":2.5,"labelFontSize":9.5,"labelColor":"#4D4D4D","labelPadding":1.5,"labelFlush":false,
    "titleFontSize":15.3,"titleFontWeight":"normal","titleColor":"#1A1A1A","titlePadding":5}},
  "opacity":{"condition":{"test":"datum.category == 'No change'","value":1},"value":0.75},
  "color":{"field":"category","type":"nominal",
   "scale":{"domain":["No change","Transcription only","Translation only","Translation reinforcement","Translation buffering (partial)","Translation buffering (complete)","Translation antagonism"],
            "range":["#E41A1C","#377EB8","#4DAF4A","#984EA3","#FF7F00","#FFFF33","#A65628"]},
   "legend":{"orient":"none","legendX":241,"legendY":72,"title":null,"symbolType":"circle","symbolSize":65,"symbolOpacity":0.6,"symbolStrokeWidth":0,
    "labelFontSize":9.2,"labelColor":"#222222","rowPadding":3.2,"labelOffset":4,"padding":0,"labelLimit":300}}}},
{"data":{"values":[{"note":"LIN28B OE VS LIN28B OE IMP1⁻/⁻"}]},
 "mark":{"type":"text","align":"left","baseline":"middle","fontSize":9.8,"color":"#333333"},
 "encoding":{"x":{"datum":-9.82,"type":"quantitative"},"y":{"datum":9.06,"type":"quantitative"},"text":{"field":"note"}}},
{"data":{"values":[{"note":"R² = 0.16"}]},
 "mark":{"type":"text","align":"left","baseline":"middle","fontSize":9.8,"color":"#333333"},
 "encoding":{"x":{"datum":-9.82,"type":"quantitative"},"y":{"datum":7.99,"type":"quantitative"},"text":{"field":"note"}}},
{"data":{"values":[{"panel":"B"}]},
 "mark":{"type":"text","fontSize":18,"fontWeight":"bold","align":"center","baseline":"middle","color":"#000000"},
 "encoding":{"x":{"datum":-14.9,"type":"quantitative"},"y":{"datum":10.65,"type":"quantitative"},"text":{"field":"panel"}}}
]}
],"spacing":232.3,"bounds":"flush","resolve":{"scale":{"color":"independent"},"legend":{"color":"independent"}}},
{"hconcat":[
{
"width":295,"height":296,
"view":{"fill":"#EBEBEB","stroke":null},
"layer":[
{"data":{"name":"te"},
 "mark":{"type":"circle","size":15,"opacity":1},
 "encoding":{
  "x":{"field":"te","type":"quantitative","title":"Mean Translation Efficiency (TE)","scale":{"type":"log","domain":[0.0008,60.3],"nice":false},
   "axis":{"values":[0.001,0.01,0.1,1,10],"labelExpr":"datum.value == 0.01 ? '0.01' : (datum.value == 1 ? '1.00' : '')","domain":false,"gridColor":"#FFFFFF",
    "gridWidth":{"condition":{"test":"datum.value == 0.01 || datum.value == 1","value":1.2},"value":0.6},
    "tickOpacity":{"condition":{"test":"datum.value == 0.01 || datum.value == 1","value":1},"value":0},
    "tickColor":"#333333","tickSize":2.7,"labelFontSize":8.2,"labelColor":"#4D4D4D","labelPadding":1.5,"labelFlush":false,
    "titleFontSize":15.3,"titleFontWeight":"normal","titleColor":"#1A1A1A","titlePadding":3}},
  "y":{"field":"lfc","type":"quantitative","title":"Log2 Fold-change","scale":{"domain":[-5.94,5.58],"nice":false,"zero":false},
   "axis":{"values":[-4.5,-3,-1.5,0,1.5,3,4.5],"labelExpr":"datum.value % 3 == 0 ? toString(datum.value) : ''","domain":false,"gridColor":"#FFFFFF",
    "gridWidth":{"condition":{"test":"datum.value % 3 != 0","value":0.6},"value":1.2},
    "tickOpacity":{"condition":{"test":"datum.value % 3 != 0","value":0},"value":1},
    "tickColor":"#333333","tickSize":2.7,"labelFontSize":8.2,"labelColor":"#4D4D4D","labelPadding":1,"labelFlush":false,
    "titleFontSize":15.3,"titleFontWeight":"normal","titleColor":"#1A1A1A","titlePadding":1}},
  "color":{"field":"sig","type":"nominal","scale":{"domain":[1,0],"range":["#4A84BE","#E41A1C"]},"legend":null}}},
{"data":{"values":[{"panel":"C"}]},
 "mark":{"type":"text","fontSize":18,"fontWeight":"bold","align":"center","baseline":"middle","color":"#000000"},
 "encoding":{"x":{"datum":0.000141,"type":"quantitative"},"y":{"datum":6.06,"type":"quantitative"},"text":{"field":"panel"}}}
]},
{
"width":172.7,"height":315,
"layer":[
{"data":{"name":"kegg"},
 "mark":{"type":"bar"},
 "encoding":{
  "y":{"field":"pathway","type":"nominal","sort":null,"title":null,
   "scale":{"domain":["Pathways in cancer","Proteoglycans in cancer","Wnt signaling pathway","Base excision repair","TNF signaling pathway","Signaling pathways regulating pluripotency of stem cells","MAPK signaling pathway","HTLV-I infection","Axon guidance","Basal cell carcinoma","NF-kappa B signaling pathway","Melanoma","Primary immunodeficiency","SNARE interactions in vesicular transport","Transcriptional misregulation in cancer","p53 signaling pathway","VEGF signaling pathway","Apoptosis","Natural killer cell mediated cytotoxicity","Oxytocin signaling pathway","Hippo signaling pathway","Cytosolic DNA-sensing pathway"],"paddingInner":0.45,"paddingOuter":0.4},
   "axis":{"domainColor":"#000000","domainWidth":1.3,"tickColor":"#000000","tickSize":3,"tickWidth":1,
    "labelFontSize":{"condition":{"test":"datum.value == 'Wnt signaling pathway'","value":8.6},"value":7.7},
    "labelFontWeight":{"condition":{"test":"datum.value == 'Wnt signaling pathway'","value":"bold"},"value":"normal"},
    "labelColor":"#000000","labelPadding":1.5,"labelLimit":400}},
  "x":{"field":"p","type":"quantitative","title":"-log10 p-value","scale":{"domain":[0,4],"nice":false},
   "axis":{"values":[0,1,2,3,4],"grid":false,"domainColor":"#000000","domainWidth":1.3,"tickColor":"#000000","tickSize":4,"tickWidth":1,
    "labelFontSize":14,"labelColor":"#000000","labelPadding":1,"labelFlush":false,"titleFontSize":15,"titleFontWeight":"normal","titleColor":"#000000","titlePadding":2}},
  "color":{"field":"pathway","type":"nominal",
   "scale":{"domain":["Pathways in cancer","Proteoglycans in cancer","Wnt signaling pathway","Base excision repair","TNF signaling pathway","Signaling pathways regulating pluripotency of stem cells","MAPK signaling pathway","HTLV-I infection","Axon guidance","Basal cell carcinoma","NF-kappa B signaling pathway","Melanoma","Primary immunodeficiency","SNARE interactions in vesicular transport","Transcriptional misregulation in cancer","p53 signaling pathway","VEGF signaling pathway","Apoptosis","Natural killer cell mediated cytotoxicity","Oxytocin signaling pathway","Hippo signaling pathway","Cytosolic DNA-sensing pathway"],
    "range":["#94622A","#000000","#F4801F","#8A4E9D","#3CB44B","#EC1C24","#3A54A4","#BEBC30","#D4D4D4","#C1622A","#F4E61A","#636363","#BCB8DA","#93BFE6","#6ABD45","#F1B77F","#1E5B2E","#A11D22","#5B1A4E","#262B6D","#8F5F25","#000000"]},
   "legend":null}}},
{"data":{"values":[{"t":"Significant KEGG Pathways"}]},
 "mark":{"type":"text","fontSize":15,"baseline":"middle","align":"center","dy":-24,"color":"#000000"},
 "encoding":{"x":{"datum":0.764,"type":"quantitative"},"y":{"datum":"Pathways in cancer","type":"nominal"},"text":{"field":"t"}}},
{"data":{"values":[{"panel":"D"}]},
 "mark":{"type":"text","fontSize":18,"fontWeight":"bold","align":"center","baseline":"middle","dy":-21,"color":"#000000"},
 "encoding":{"x":{"datum":-4.863,"type":"quantitative"},"y":{"datum":"Pathways in cancer","type":"nominal"},"text":{"field":"panel"}}}
]}
],"spacing":232.3,"bounds":"flush","resolve":{"scale":{"color":"independent"},"legend":{"color":"independent"}}}
]
}
